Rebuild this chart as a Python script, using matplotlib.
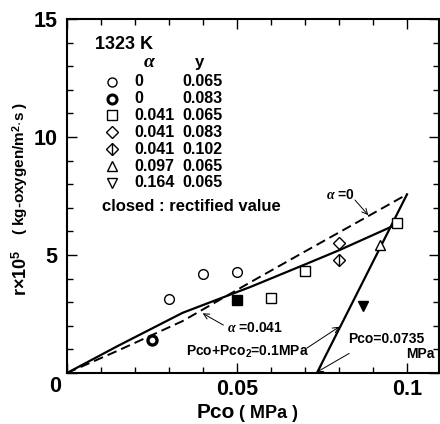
import matplotlib
matplotlib.use("Agg")
import matplotlib.pyplot as plt
import numpy as np

plt.rcParams['font.family'] = ['Liberation Sans', 'DejaVu Sans']
plt.rcParams['font.weight'] = 'bold'
plt.rcParams['mathtext.fontset'] = 'custom'
plt.rcParams['mathtext.rm'] = 'Liberation Sans:bold'
plt.rcParams['mathtext.bf'] = 'Liberation Sans:bold'
plt.rcParams['mathtext.it'] = 'Liberation Serif:italic'

# measured points, Pco (MPa) vs r x 1e5
circ_x = [0.030, 0.040, 0.050]
circ_y = [3.15, 4.20, 4.27]
bcirc_x = [0.025]
bcirc_y = [1.40]
sq_x = [0.060, 0.070, 0.097]
sq_y = [3.17, 4.34, 6.37]
sq_closed_x = [0.050]
sq_closed_y = [3.10]
dia_x = [0.080]
dia_y = [5.52]
diabar_x = [0.080]
diabar_y = [4.77]
tri_x = [0.092]
tri_y = [5.42]
tridown_closed_x = [0.087]
tridown_closed_y = [2.82]

# curves
a0_x = [0, 0.015, 0.034, 0.054, 0.070, 0.089, 0.100]
a0_y = [0, 0.95, 2.20, 3.85, 5.15, 6.68, 7.57]
a041_x = [0, 0.015, 0.034, 0.054, 0.070, 0.080, 0.097]
a041_y = [0, 1.15, 2.55, 3.65, 4.60, 5.20, 6.30]
ptot_x = [0.0735, 0.100]
ptot_y = [0, 7.57]

# legend table
leg_marker = ['o', 'o', 's', 'D', 'D', '^', 'v']
leg_mew = [1.0, 2.2, 1.0, 1.0, 1.0, 1.0, 1.0]
leg_bar = [False, False, False, False, True, False, False]
leg_alpha = ['0', '0', '0.041', '0.041', '0.041', '0.097', '0.164']
leg_y = ['0.065', '0.083', '0.065', '0.083', '0.102', '0.065', '0.065']

fig = plt.figure(figsize=(4.4, 4.24), dpi=100)
ax = fig.add_axes([67/440, 51/424, 372/440, 354/424])
ax.set_xlim(0, 372/3400)
ax.set_ylim(0, 15)

ax.plot(a0_x, a0_y, 'k', lw=1.4, dashes=(5, 2.6))
ax.plot(a041_x, a041_y, 'k-', lw=1.6)
ax.plot(ptot_x, ptot_y, 'k-', lw=1.6)

mk = dict(color='k', ls='none', mfc='white', mec='k', mew=1.0, ms=7)
ax.plot(circ_x, circ_y, 'o', **mk)
ax.plot(bcirc_x, bcirc_y, 'o', **{**mk, 'mew': 2.4, 'ms': 6.5})
ax.plot(sq_x, sq_y, 's', **mk)
ax.plot(sq_closed_x, sq_closed_y, 's', **{**mk, 'mfc': 'k'})
ax.plot(dia_x, dia_y, 'D', **{**mk, 'ms': 6.5})
ax.plot(diabar_x, diabar_y, 'D', **{**mk, 'ms': 6.5})
ax.plot(diabar_x, diabar_y, '|', color='k', ms=9, mew=1.0)
ax.plot(tri_x, tri_y, '^', **mk)
ax.plot(tridown_closed_x, tridown_closed_y, 'v', **{**mk, 'mfc': 'k'})

# legend drawn as a small table
ax.text(0.075, 0.927, '1323 K', transform=ax.transAxes, fontsize=13, va='center', ha='left')
ax.text(0.2225, 0.876, r'$\alpha$', transform=ax.transAxes, fontsize=14, va='center', ha='center')
ax.text(0.357, 0.876, 'y', transform=ax.transAxes, fontsize=12, va='center', ha='center')
for i in range(len(leg_marker)):
    yy = 0.823 - i*0.0477
    ax.plot(0.12, yy, leg_marker[i], transform=ax.transAxes, color='k', mfc='white',
            mec='k', mew=leg_mew[i], ms=6.5 if leg_marker[i] != 'D' else 6)
    if leg_bar[i]:
        ax.plot(0.12, yy, '|', transform=ax.transAxes, color='k', ms=8.5, mew=1.0)
    ax.text(0.182, yy, leg_alpha[i], transform=ax.transAxes, fontsize=11.5, va='center', ha='left')
    ax.text(0.311, yy, leg_y[i], transform=ax.transAxes, fontsize=11.5, va='center', ha='left')
ax.text(0.093, 0.47, 'closed : rectified value', transform=ax.transAxes, fontsize=12,
        va='center', ha='left')

# annotations
arr = dict(arrowstyle='->', color='k', lw=0.7, shrinkA=0, shrinkB=0)
ax.text(0.0762, 7.54, r'$\alpha$ =0', fontsize=10, va='center', ha='left')
ax.annotate('', xy=(0.0886, 6.69), xytext=(0.0847, 7.33), arrowprops=arr)
ax.text(0.047, 1.89, r'$\alpha$ =0.041', fontsize=10, va='center', ha='left')
ax.annotate('', xy=(0.0399, 2.53), xytext=(0.046, 2.03), arrowprops=arr)
ax.text(0.035, 0.9, r'Pco+Pco$_\mathrm{2}$=0.1MPa', fontsize=10, va='center', ha='left')
ax.annotate('', xy=(0.0801, 1.96), xytext=(0.0705, 1.05), arrowprops=arr)
ax.text(0.0826, 1.42, 'Pco=0.0735', fontsize=10, va='center', ha='left')
ax.text(0.1082, 0.80, 'MPa', fontsize=10, va='center', ha='right')
ax.annotate('', xy=(0.0734, 0.03), xytext=(0.083, 0.83), arrowprops=arr)

# ticks
ax.set_xticks([0, 0.05, 0.1])
ax.set_xticklabels(['', '0.05', '0.1'])
ax.set_xticks(np.arange(0, 0.11, 0.01), minor=True)
ax.set_yticks([0, 5, 10, 15])
ax.set_yticklabels(['', '5', '10', '15'])
ax.set_yticks(np.arange(0, 16, 1), minor=True)
ax.tick_params(which='both', direction='in', top=True, right=True, width=1.0, labelsize=15.5)
ax.tick_params(which='major', length=7)
ax.tick_params(which='minor', length=4.5)
ax.tick_params(axis='x', pad=4)
ax.tick_params(axis='y', pad=7)
ax.annotate('0', (0, 0), xytext=(-8.6, -9.5), textcoords='offset points', fontsize=15.5,
            ha='center', va='center', annotation_clip=False)
for s in ax.spines.values():
    s.set_linewidth(1.5)

# axis titles
fig.text(197/440, 11/424, 'Pco', fontsize=15, ha='left', va='center')
fig.text(239/440, 11/424, '( MPa )', fontsize=13, ha='left', va='center')
fig.text(21/440, (424-273)/424, r'r$\times$10$^\mathrm{5}$', fontsize=13, rotation=90,
         ha='center', va='center')
fig.text(21/440, (424-168)/424, r'( kg-oxygen/m$^\mathrm{2}$$\cdot$s )', fontsize=11,
         rotation=90, ha='center', va='center')

fig.savefig('out.png', dpi=100)
